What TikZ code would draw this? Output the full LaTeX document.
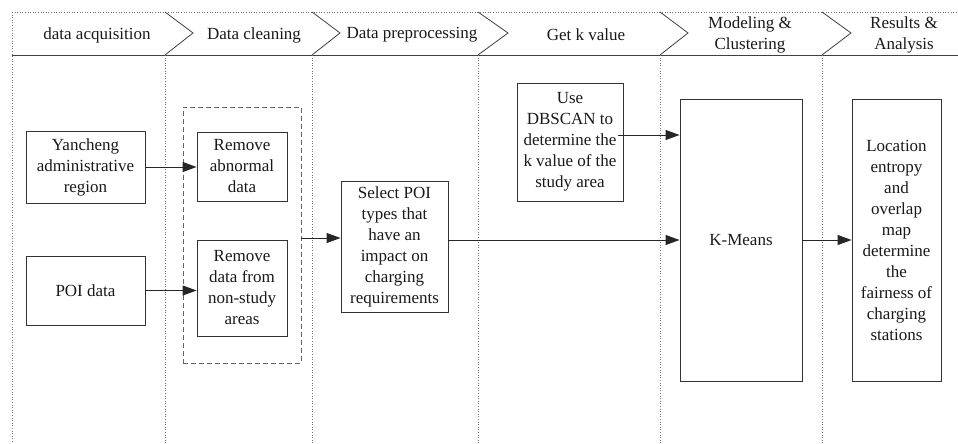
\documentclass[tikz,border=0pt]{standalone}
\usepackage{fontspec}
\setmainfont{Liberation Serif}
\usetikzlibrary{arrows.meta}
\begin{document}
\begin{tikzpicture}[x=1pt,y=-1pt,
  box/.style={draw=black!80, line width=0.9pt, inner sep=0pt, align=center, font=\fontsize{17}{21}\selectfont, text=black!90},
  dbox/.style={draw=black!60, dashed, dash pattern=on 5pt off 3pt, line width=0.9pt, inner sep=0pt},
  lane/.style={draw=black!55, dotted, line width=0.6pt},
  hline/.style={draw=black!75, line width=0.8pt},
  hdr/.style={font=\fontsize{17}{21}\selectfont, align=center, inner sep=0pt, text=black!90},
  arr/.style={draw=black!85, line width=0.9pt, -{Triangle[length=14pt,width=10pt]}},
]
\useasboundingbox (0,0) rectangle (958,444);
% header frame
\draw[lane] (12,12) -- (958,12);
\draw[lane] (12,12) -- (12,444);
\draw[hline] (12,55) -- (958,55);
\foreach \b/\t in {165/193, 312/340, 478/508, 660/688, 822/851}{
  \draw[hline] (\b,12) -- (\t,33) -- (\b,55);
  \draw[lane] (\b,55) -- (\b,444);
}
% header labels
\node[hdr] (h1) at (97,35) {data acquisition};
\node[hdr] (h2) at (254,35) {Data cleaning};
\node[hdr] (h3) at (412,35) {Data preprocessing};
\node[hdr] (h4) at (586,35) {Get k value};
\node[hdr] (h5) at (750,35) {Modeling \&\\Clustering};
\node[hdr] (h6) at (904,35) {Results \&\\Analysis};
% boxes
\node[box, minimum width=119, minimum height=72] (yan) at (85.5,167) {Yancheng\\administrative\\region};
\node[box, minimum width=119, minimum height=69] (poi) at (85.5,290.5) {POI data};
\node[dbox, minimum width=118, minimum height=256] (dash) at (242,235) {};
\node[box, minimum width=90, minimum height=69] (abn) at (242,166.5) {Remove\\abnormal\\data};
\node[box, minimum width=90, minimum height=96] (rem) at (242,288) {Remove\\data from\\non-study\\areas};
\node[box, minimum width=107, minimum height=131] (sel) at (394.5,246.5) {Select POI\\types that\\have an\\impact on\\charging\\requirements};
\node[box, minimum width=106, minimum height=118] (db) at (570,142) {Use\\DBSCAN to\\determine the\\k value of the\\study area};
\node[box, minimum width=122, minimum height=282] (km) at (741,240) {K-Means};
\node[box, minimum width=89, minimum height=282] (res) at (896.5,240) {Location\\entropy\\and\\overlap\\map\\determine\\the\\fairness of\\charging\\stations};
% arrows
\draw[arr] (yan.east) -- (yan.east -| abn.west);
\draw[arr] (poi.east) -- (poi.east -| rem.west);
\draw[arr] ([yshift=-3]dash.east) -- ([yshift=-3]dash.east -| sel.west);
\draw[arr] (sel.east |- km.west) -- (km.west);
\draw[arr] ([xshift=-5,yshift=7]db.east) -- ([yshift=7]db.east -| km.west);
\draw[arr] (km.east) -- (res.west);
\end{tikzpicture}
\end{document}
